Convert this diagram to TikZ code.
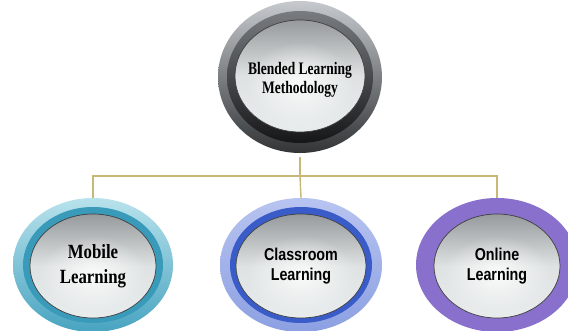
\documentclass[tikz,border=0pt]{standalone}
\usepackage{graphicx}
\usepackage{fontspec}
\setmainfont{Liberation Serif}
\newfontfamily\arialf{Liberation Sans}
\usetikzlibrary{shapes.geometric,fadings}
\newcommand\vstr[2]{\scalebox{1}[#1]{#2}}
\definecolor{connc}{RGB}{200,184,120}
\definecolor{btntop}{RGB}{150,154,156}
\definecolor{btnmid}{RGB}{222,226,226}
\definecolor{btnbot}{RGB}{232,236,236}
\definecolor{gOutTop}{RGB}{198,202,206}
\definecolor{gOutBot}{RGB}{50,52,54}
\definecolor{gRingTop}{RGB}{120,124,128}
\definecolor{gRingBot}{RGB}{22,22,24}
\definecolor{tOutTop}{RGB}{184,226,236}
\definecolor{tOutBot}{RGB}{72,164,192}
\definecolor{tRing}{RGB}{58,154,186}
\definecolor{bOutTop}{RGB}{184,196,240}
\definecolor{bOutBot}{RGB}{140,160,226}
\definecolor{bRing}{RGB}{58,92,200}
\definecolor{purp}{RGB}{136,112,204}
\tikzfading[name=softglow, inner color=transparent!0, outer color=transparent!100]
\tikzset{
  connector/.style={draw=connc, line width=1.4pt},
  btn/.style={draw=black!75, line width=0.7pt, top color=btntop, bottom color=btnbot, middle color=btnmid},
  glow/.style={fill=white, path fading=softglow, fill opacity=0.85},
  anchorshape/.style={ellipse, inner sep=0pt, minimum width=#1},
  serifbig/.style={font=\bfseries\fontsize{13.5}{19}\selectfont, align=center, text=black, inner sep=0pt},
  serifmid/.style={font=\bfseries\fontsize{16.8}{25}\selectfont, align=center, text=black, inner sep=0pt},
  sansmid/.style={font=\arialf\bfseries\fontsize{14.3}{20}\selectfont, align=center, text=black, inner sep=0pt},
}
\begin{document}
\begin{tikzpicture}[x=1pt,y=-1pt]
\useasboundingbox[fill=white] (0,0) rectangle (568,331);
\begin{scope}
\clip (0,0) rectangle (568,331);
% top knob
\shade[top color=gOutTop, bottom color=gOutBot] (300,77) ellipse [x radius=82pt, y radius=76pt];
\shade[top color=gRingTop, bottom color=gRingBot] (300,77) ellipse [x radius=73pt, y radius=66pt];
\path[btn] (300,76) ellipse [x radius=65pt, y radius=56pt];
\fill[glow] (300,84) ellipse [x radius=55pt, y radius=42pt];
% mobile
\shade[top color=tOutTop, bottom color=tOutBot] (93,265) ellipse [x radius=80pt, y radius=67pt];
\fill[tRing] (93,265) ellipse [x radius=70pt, y radius=58pt];
\path[btn] (93,266) ellipse [x radius=63pt, y radius=52pt];
\fill[glow] (93,274) ellipse [x radius=54pt, y radius=38pt];
% classroom
\shade[top color=bOutTop, bottom color=bOutBot] (301,265) ellipse [x radius=81pt, y radius=67pt];
\fill[bRing] (301,265) ellipse [x radius=71pt, y radius=58pt];
\path[btn] (301,266) ellipse [x radius=65pt, y radius=52pt];
\fill[glow] (301,274) ellipse [x radius=55pt, y radius=38pt];
% online
\fill[purp] (497,265) ellipse [x radius=81pt, y radius=67pt];
\path[btn] (497,266) ellipse [x radius=63pt, y radius=52pt];
\fill[glow] (497,274) ellipse [x radius=54pt, y radius=38pt];
\end{scope}
% anchor nodes
\node[anchorshape=164pt, minimum height=152pt] (topN) at (300,77) {};
\node[anchorshape=160pt, minimum height=134pt] (mobN) at (93,265) {};
\node[anchorshape=162pt, minimum height=134pt] (clsN) at (301,265) {};
\node[anchorshape=162pt, minimum height=134pt] (onlN) at (497,265) {};
% texts
\node[serifbig] (topT) at (300,79.5) {\vstr{1.3}{Blended Learning}\\\vstr{1.3}{Methodology}};
\node[serifmid] (mobT) at (93,266) {\vstr{1.2}{Mobile}\\\vstr{1.2}{Learning}};
\node[sansmid] (clsT) at (301,266.5) {\vstr{1.2}{Classroom}\\\vstr{1.2}{Learning}};
\node[sansmid] (onlT) at (497,266.5) {\vstr{1.2}{Online}\\\vstr{1.2}{Learning}};
% connectors
\coordinate (hub) at (300,176);
\draw[connector] ([yshift=-4pt]topN.south) -- (hub);
\draw[connector] (mobN.north) |- (hub) -| (onlN.north);
\draw[connector] (hub) -- (clsN.north);
\end{tikzpicture}
\end{document}
